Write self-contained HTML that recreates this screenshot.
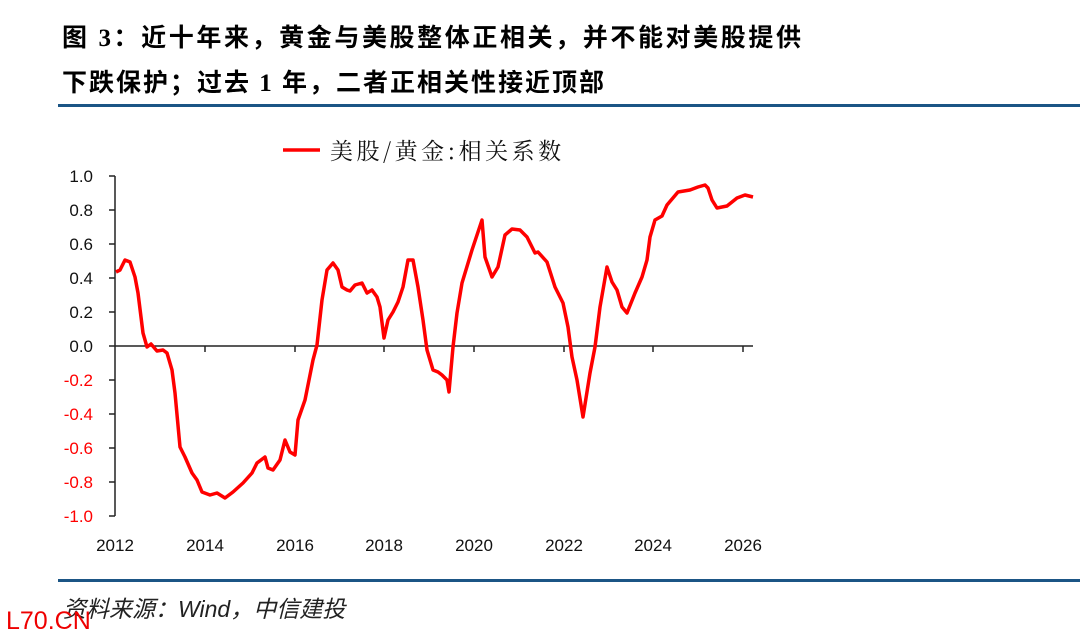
<!DOCTYPE html>
<html><head><meta charset="utf-8"><style>
body{margin:0;width:1080px;height:642px;background:#fff;overflow:hidden;position:relative;font-family:"Liberation Sans","Noto Sans CJK SC",sans-serif}
.t{position:absolute;left:62px;font-size:25px;font-weight:bold;color:#000;white-space:nowrap;font-family:"Liberation Serif","Noto Sans CJK SC",sans-serif;letter-spacing:2.6px}
</style></head><body>
<div class="t" style="top:18px">图&nbsp;3：近十年来，黄金与美股整体正相关，并不能对美股提供</div>
<div class="t" style="top:63px;letter-spacing:2px">下跌保护；过去 1 年，二者正相关性接近顶部</div>
<div style="position:absolute;left:58px;top:104px;width:1022px;height:3px;background:#1b5585"></div>
<div style="position:absolute;left:58px;top:579px;width:1022px;height:3px;background:#1b5585"></div>
<div style="position:absolute;left:63px;top:590px;font-size:23px;font-style:italic;color:#222;font-family:'Liberation Sans','Noto Sans CJK SC',sans-serif">资料来源：Wind，中信建投</div>
<div style="position:absolute;left:6px;top:607px;font-size:25px;color:#e00;font-family:'Liberation Sans',sans-serif">L70.CN</div>
<svg width="1080" height="642" style="position:absolute;left:0;top:0" font-family="Liberation Sans, sans-serif">
<line x1="283" y1="150" x2="320" y2="150" stroke="#f00" stroke-width="3.5"/>
<text x="330" y="159" font-size="23" font-family="Noto Serif CJK SC, serif" fill="#111" letter-spacing="3.5">美股/黄金:相关系数</text>
<g stroke="#222" stroke-width="1.5">
<line x1="115" y1="176" x2="115" y2="516"/>
<line x1="115" y1="346" x2="753" y2="346"/>
<line x1="109" y1="176" x2="115" y2="176"/><line x1="109" y1="210" x2="115" y2="210"/><line x1="109" y1="244" x2="115" y2="244"/><line x1="109" y1="278" x2="115" y2="278"/><line x1="109" y1="312" x2="115" y2="312"/><line x1="109" y1="346" x2="115" y2="346"/><line x1="109" y1="380" x2="115" y2="380"/><line x1="109" y1="414" x2="115" y2="414"/><line x1="109" y1="448" x2="115" y2="448"/><line x1="109" y1="482" x2="115" y2="482"/><line x1="109" y1="516" x2="115" y2="516"/>
<line x1="205" y1="346" x2="205" y2="352"/><line x1="295" y1="346" x2="295" y2="352"/><line x1="384" y1="346" x2="384" y2="352"/><line x1="474" y1="346" x2="474" y2="352"/><line x1="564" y1="346" x2="564" y2="352"/><line x1="653" y1="346" x2="653" y2="352"/><line x1="743" y1="346" x2="743" y2="352"/>
</g>
<g font-size="17" text-anchor="end">
<text x="93" y="182" fill="#111">1.0</text><text x="93" y="216" fill="#111">0.8</text><text x="93" y="250" fill="#111">0.6</text><text x="93" y="284" fill="#111">0.4</text><text x="93" y="318" fill="#111">0.2</text><text x="93" y="352" fill="#111">0.0</text>
<text x="93" y="386" fill="#f00">-0.2</text><text x="93" y="420" fill="#f00">-0.4</text><text x="93" y="454" fill="#f00">-0.6</text><text x="93" y="488" fill="#f00">-0.8</text><text x="93" y="522" fill="#f00">-1.0</text>
</g>
<g font-size="17" text-anchor="middle" fill="#111">
<text x="115" y="551">2012</text><text x="205" y="551">2014</text><text x="295" y="551">2016</text><text x="384" y="551">2018</text><text x="474" y="551">2020</text><text x="564" y="551">2022</text><text x="653" y="551">2024</text><text x="743" y="551">2026</text>
</g>
<polyline fill="none" stroke="#f00" stroke-width="3.5" stroke-linejoin="round" points="116,272 120,270 125,260 130,262 135,277 138,293 143,333 147,347 151,344 157,351 163,350 167,353 172,370 175,393 180,447 185,457 192,473 197,480 202,492 210,495 217,493 225,498 233,492 243,483 252,473 257,463 265,457 268,468 273,470 280,460 285,440 290,452 295,455 298,420 305,400 313,360 317,345 322,300 327,270 333,263 338,270 342,287 347,290 350,291 355,285 362,283 367,293 372,290 377,297 380,307 384,338 388,320 393,312 398,302 403,287 408,260 413,260 418,287 423,320 427,350 433,370 438,372 442,375 447,380 449,392 453,347 457,313 462,283 472,250 482,220 485,257 492,277 498,267 505,235 512,229 520,230 527,237 535,253 538,252 547,262 555,287 563,303 568,327 572,357 577,380 583,417 590,373 595,347 600,307 607,267 612,282 617,290 622,307 627,313 635,293 642,277 647,260 650,237 655,220 662,216 667,205 678,192 690,190 698,187 705,185 708,188 712,200 717,208 727,206 737,198 745,195 753,197"/>
</svg>
</body></html>
